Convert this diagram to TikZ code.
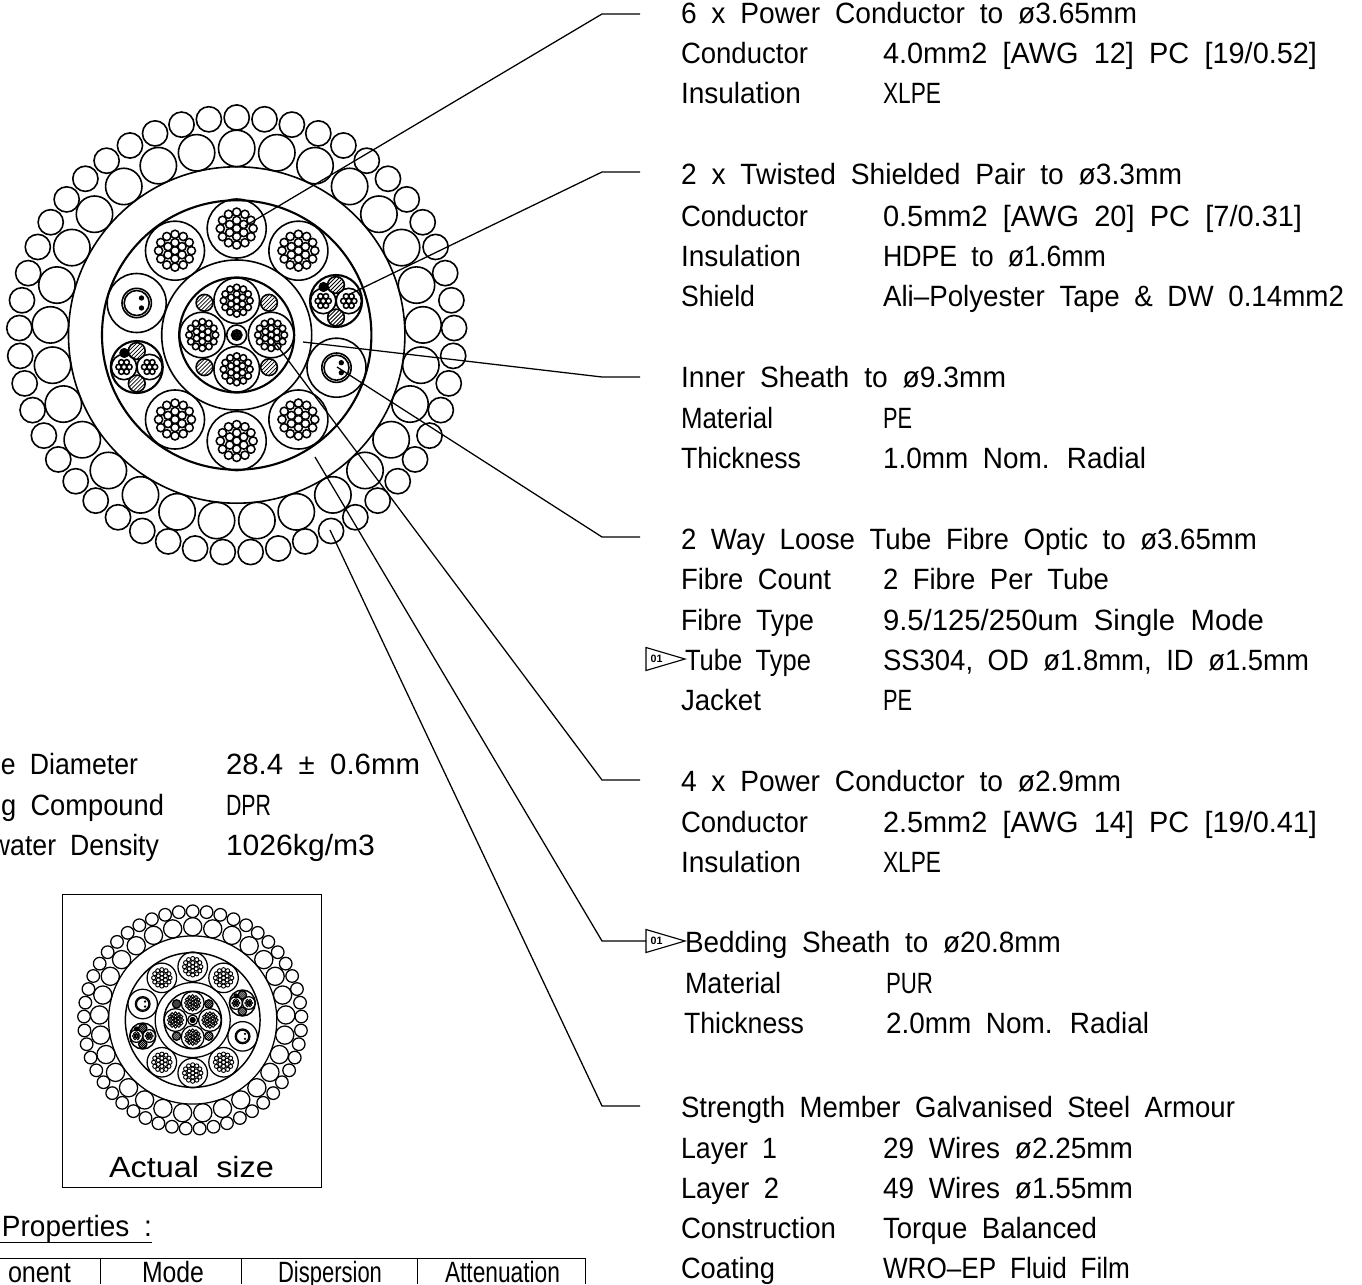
\documentclass[tikz,border=0pt]{standalone}
\usepackage{fontspec}
\usepackage{graphicx}
\setmainfont{Liberation Sans}[WordSpace=1.9]
\tikzset{
  x=0.75pt,y=-0.75pt,
  txt/.style={anchor=base west,inner sep=0pt,outer sep=0pt,font=\fontsize{22}{26}\selectfont},
  flagtxt/.style={inner sep=0pt,font=\bfseries\fontsize{8}{9}\selectfont},
  leader/.style={line width=0.95pt},
  frame/.style={line width=0.75pt},
  wire/.style={line width=\lwa},
  strand/.style={line width=\lwb},
  heavy/.style={line width=\lwc},
  hatchline/.style={line width=0.55pt},
  flag/.style={line width=0.85pt,line join=miter}
}
\newcommand\TT[5]{\pgfmathsetmacro\twd{(#3-(#2))*0.75}\node[txt] (#1) at (#2,#4) {\resizebox{\twd pt}{\height}{#5}};}
% stranded conductor: x y envelope inner-ring outer-ring strand
\newcommand\stranded[6]{%
  \draw[wire] (#1,#2) circle (#3);
  \draw[strand] (#1,#2) circle (#6);
  \foreach \k in {0,...,5}{\draw[strand] ({#1+#4*cos(90+60*\k)},{#2+#4*sin(90+60*\k)}) circle (#6);}
  \foreach \k in {0,...,11}{\draw[strand] ({#1+#5*cos(90+30*\k)},{#2+#5*sin(90+30*\k)}) circle (#6);}
}
\newcommand\hatched[3]{%
  \begin{scope}
    \clip (#1,#2) circle (#3);
    \foreach \d in {-16,-12,...,16}{\draw[hatchline] ({#1+\d-#3},{#2+#3}) -- ({#1+\d+#3},{#2-#3});}
  \end{scope}
  \draw[wire] (#1,#2) circle (#3);
}
\newcommand\darkcore[3]{%
  \draw[strand] (#1,#2) circle (#3);
  \draw[strand] (#1,#2) circle ({#3*0.3});
  \foreach \k in {0,...,5}{\draw[strand] ({#1+#3*0.62*cos(60*\k)},{#2+#3*0.62*sin(60*\k)}) circle ({#3*0.3});}
}
\newcommand\pairc[2]{%
  \draw[wire] (#1,#2) circle (12.7);
  \draw[strand] (#1,#2) circle (2.7);
  \foreach \k in {0,...,5}{\draw[strand] ({#1+5.4*cos(60*\k)},{#2+5.4*sin(60*\k)}) circle (2.7);}
}
% twisted shielded pair: x y drain-dx
\newcommand\tsp[2]{%
  \draw[heavy] (#1,#2) circle (26);
  \pairc{#1-12.8}{#2}
  \pairc{#1+12.8}{#2}
  \hatched{#1}{#2-16}{8.4}
  \hatched{#1}{#2+16.5}{8.4}
  \darkcore{#1-12.5}{#2-14}{4.2}
}
\newcommand\fibre[2]{%
  \draw[wire] (#1,#2) circle (29.5);
  \draw[wire] (#1,#2) circle (14.7);
  \draw[wire] (#1,#2) circle (12.5);
  \fill (#1+4.8,#2-5) circle (2.7);
  \fill (#1+4.8,#2+5) circle (2.7);
}
\newcommand\cablebody{%
  \foreach \k in {0,...,48}{\draw[wire] ({236.7+217.5*cos(-90+360/49*\k)},{335+217.5*sin(-90+360/49*\k)}) circle (12.6);}
  \foreach \k in {0,...,28}{\draw[wire] ({236.7+186.6*cos(-90+360/29*\k)},{335+186.6*sin(-90+360/29*\k)}) circle (18.2);}
  \draw[wire] (236.7,335) circle (168.2);
  \draw[heavy] (236.7,335) circle (134.7);
  \draw[wire] (236.7,335) circle (75);
  \draw[heavy] (236.7,335) circle (57.5);
  % six power conductors
  \stranded{236.7}{228.5}{29.5}{8.1}{16.4}{4.1}
  \stranded{175}{250.7}{29.5}{8.1}{16.4}{4.1}
  \stranded{298.4}{250.7}{29.5}{8.1}{16.4}{4.1}
  \stranded{175}{419.5}{29.5}{8.1}{16.4}{4.1}
  \stranded{298.4}{419.5}{29.5}{8.1}{16.4}{4.1}
  \stranded{236.7}{441}{29.5}{8.1}{16.4}{4.1}
  % fibre tubes and pairs
  \fibre{136.7}{303}
  \fibre{336.5}{367.7}
  \tsp{336}{301}
  \tsp{136.8}{367}
  % four inner conductors
  \stranded{236.7}{300.7}{22.8}{6.6}{13.2}{3.3}
  \stranded{236.7}{369.3}{22.8}{6.6}{13.2}{3.3}
  \stranded{202.3}{335}{22.8}{6.6}{13.2}{3.3}
  \stranded{271.1}{335}{22.8}{6.6}{13.2}{3.3}
  % fillers
  \hatched{204.5}{302.8}{8.4}
  \hatched{269}{302.8}{8.4}
  \hatched{204.5}{367.2}{8.4}
  \hatched{269}{367.2}{8.4}
  % centre
  \draw[wire] (236.7,335) circle (10);
  \darkcore{236.7}{335}{5.2}
}
\begin{document}
\begin{tikzpicture}
\useasboundingbox (0,0) rectangle (1362,1284);
\clip (0,0) rectangle (1362,1284);
\fill[white] (0,0) rectangle (1362,1284);
% main section
\begin{scope}
  \def\lwa{1.2pt}\def\lwb{1.15pt}\def\lwc{1.6pt}
  \cablebody
\end{scope}
% actual size section
\begin{scope}[shift={(74.35,852.5)},scale=0.5]
  \def\lwa{0.95pt}\def\lwb{0.7pt}\def\lwc{1.1pt}
  \cablebody
\end{scope}
\draw[frame] (62,894) rectangle (321,1187);
\TT{actual}{109}{274}{1177}{Actual size}
% leaders
\coordinate (a1) at (245,226); \coordinate (b1) at (602,14);  \coordinate (c1) at (640,14);
\coordinate (a2) at (348,295); \coordinate (b2) at (602,172); \coordinate (c2) at (640,172);
\coordinate (a3) at (303,342); \coordinate (b3) at (602,377); \coordinate (c3) at (640,377);
\coordinate (a4) at (337,367); \coordinate (b4) at (602,537); \coordinate (c4) at (640,537);
\coordinate (a5) at (270,336); \coordinate (b5) at (602,780); \coordinate (c5) at (640,780);
\coordinate (a6) at (315,457); \coordinate (b6) at (602,941); \coordinate (c6) at (646,941);
\coordinate (a7) at (330,530); \coordinate (b7) at (602,1106);\coordinate (c7) at (640,1106);
\foreach \i in {1,...,7}{\draw[leader] (a\i) -- (b\i) -- (c\i);}
% flags
\draw[flag] (646,647.5) -- (646,670.5) -- (685,659) -- cycle;
\node[flagtxt] (f1) at (656.5,658.5) {01};
\draw[flag] (646,929.5) -- (646,952.5) -- (685,941) -- cycle;
\node[flagtxt] (f2) at (656.5,940.5) {01};
% right column
\TT{t01}{681}{1137}{24}{6 x Power Conductor to ø3.65mm}
\TT{t02}{681}{808}{64}{Conductor}
\TT{t03}{883}{1317}{64}{4.0mm2 [AWG 12] PC [19/0.52]}
\TT{t04}{681}{801}{104}{Insulation}
\TT{t05}{883}{941}{104}{XLPE}
\TT{t06}{681}{1182}{185}{2 x Twisted Shielded Pair to ø3.3mm}
\TT{t07}{681}{808}{226}{Conductor}
\TT{t08}{883}{1302}{226}{0.5mm2 [AWG 20] PC [7/0.31]}
\TT{t09}{681}{801}{266}{Insulation}
\TT{t10}{883}{1106}{266}{HDPE to ø1.6mm}
\TT{t11}{681}{755}{306}{Shield}
\TT{t12}{883}{1344}{306}{Ali–Polyester Tape \& DW 0.14mm2}
\TT{t13}{681}{1006}{387}{Inner Sheath to ø9.3mm}
\TT{t14}{681}{773}{428}{Material}
\TT{t15}{883}{912}{428}{PE}
\TT{t16}{681}{801}{468}{Thickness}
\TT{t17}{883}{1146}{468}{1.0mm Nom. Radial}
\TT{t18}{681}{1257}{549}{2 Way Loose Tube Fibre Optic to ø3.65mm}
\TT{t19}{681}{831}{589}{Fibre Count}
\TT{t20}{883}{1109}{589}{2 Fibre Per Tube}
\TT{t21}{681}{814}{630}{Fibre Type}
\TT{t22}{883}{1264}{630}{9.5/125/250um Single Mode}
\TT{t23}{685}{811}{670}{Tube Type}
\TT{t24}{883}{1309}{670}{SS304, OD ø1.8mm, ID ø1.5mm}
\TT{t25}{681}{761}{710}{Jacket}
\TT{t26}{883}{912}{710}{PE}
\TT{t27}{681}{1121}{791}{4 x Power Conductor to ø2.9mm}
\TT{t28}{681}{808}{832}{Conductor}
\TT{t29}{883}{1317}{832}{2.5mm2 [AWG 14] PC [19/0.41]}
\TT{t30}{681}{801}{872}{Insulation}
\TT{t31}{883}{941}{872}{XLPE}
\TT{t32}{685}{1061}{952}{Bedding Sheath to ø20.8mm}
\TT{t33}{685}{781}{993}{Material}
\TT{t34}{886}{933}{993}{PUR}
\TT{t35}{684}{804}{1033}{Thickness}
\TT{t36}{886}{1149}{1033}{2.0mm Nom. Radial}
\TT{t37}{681}{1235}{1117}{Strength Member Galvanised Steel Armour}
\TT{t38}{681}{777}{1158}{Layer 1}
\TT{t39}{883}{1133}{1158}{29 Wires ø2.25mm}
\TT{t40}{681}{779}{1198}{Layer 2}
\TT{t41}{883}{1133}{1198}{49 Wires ø1.55mm}
\TT{t42}{681}{836}{1238}{Construction}
\TT{t43}{883}{1097}{1238}{Torque Balanced}
\TT{t44}{681}{775}{1278.5}{Coating}
\TT{t45}{883}{1130}{1278.5}{WRO–EP Fluid Film}
% left block
\TT{s1}{1}{138}{774}{e Diameter}
\TT{s2}{226}{420}{774}{28.4 ± 0.6mm}
\TT{s3}{1}{164}{815}{g Compound}
\TT{s4}{226}{271}{815}{DPR}
\TT{s5}{-9}{159}{855}{water Density}
\TT{s6}{226}{375}{855}{1026kg/m3}
% table
\TT{p0}{2}{152}{1236}{Properties :}
\coordinate (u1) at (0,1242); \coordinate (u2) at (152,1242);
\draw[frame] (u1) -- (u2);
\coordinate (h1) at (0,1258); \coordinate (h2) at (585,1258);
\draw[frame] (h1) -- (h2);
\foreach \x in {100,241,417,585}{\draw[frame] (\x,1258) -- (\x,1284);}
\TT{h0}{8}{71}{1282}{onent}
\TT{h3}{142}{204}{1282}{Mode}
\TT{h4}{278}{382}{1282}{Dispersion}
\TT{h5}{445}{560}{1282}{Attenuation}
\end{tikzpicture}
\end{document}
